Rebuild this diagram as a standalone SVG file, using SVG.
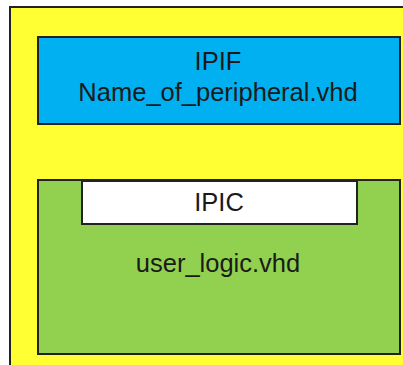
<svg xmlns="http://www.w3.org/2000/svg" width="403" height="365" viewBox="0 0 403 365">
<style>
.box{stroke:#222;stroke-width:2}
.t{font-family:"Liberation Sans",Arial,sans-serif;font-size:25.5px;fill:#1a1a1a;text-anchor:middle}
</style>
<rect width="403" height="365" fill="#fff"/>
<g id="outer"><rect class="box" x="10" y="7" width="400" height="370" fill="#FFFF33"/></g>
<g id="ipif">
<rect class="box" x="38" y="37" width="362" height="87" fill="#00B0F0"/>
<text class="t" x="218" y="70">IPIF</text>
<text class="t" x="218" y="101">Name_of_peripheral.vhd</text>
</g>
<g id="user_logic">
<rect class="box" x="38" y="180" width="362" height="174" fill="#92D050"/>
<text class="t" x="218" y="272">user_logic.vhd</text>
</g>
<g id="ipic">
<rect class="box" x="82" y="181" width="275" height="43" fill="#fff"/>
<text class="t" x="219" y="211">IPIC</text>
</g>
<g id="connectors"/>
</svg>
